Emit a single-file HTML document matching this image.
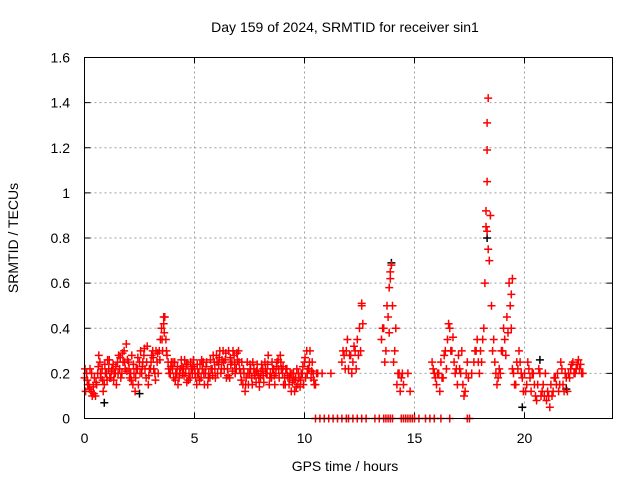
<!DOCTYPE html>
<html><head><meta charset="utf-8"><style>
body{margin:0;background:#fff}
svg text{font-family:"Liberation Sans",sans-serif;fill:#000}
</style></head><body>
<svg id="chart" width="640" height="480" xmlns="http://www.w3.org/2000/svg">
<rect width="640" height="480" fill="#fff"/>
<text x="345" y="32" font-size="14" text-anchor="middle">Day 159 of 2024, SRMTID for receiver sin1</text>
<text x="345" y="471" font-size="14" text-anchor="middle">GPS time / hours</text>
<text transform="translate(18,238) rotate(-90)" font-size="14" text-anchor="middle">SRMTID / TECUs</text>
<g id="grid"></g>
<g id="ticks"></g>
<g id="marks"></g>
<rect x="84.5" y="57.5" width="528" height="361" fill="none" stroke="#000" stroke-width="1"/>
</svg>
<script>
const xTicks=[0,5,10,15,20];
const yTicks=[0,0.2,0.4,0.6,0.8,1,1.2,1.4,1.6];
const yTickLabels=["0","0.2","0.4","0.6","0.8","1","1.2","1.4","1.6"];
const tStart=0, tStep=0.1;
const valsA=[0.18,0.2,0.15,0.12,0.14,0.1,0.2,0.25,0.22,0.15,
0.2,0.22,0.18,0.24,0.2,0.25,0.22,0.2,0.3,0.33,
0.25,0.2,0.15,0.12,0.22,0.25,0.2,0.28,0.18,0.15,
0.22,0.3,0.2,0.25,0.3,0.4,0.42,0.35,0.25,0.2,
0.22,0.25,0.2,0.18,0.26,0.22,0.2,0.24,0.18,0.2,
0.22,0.15,0.2,0.18,0.25,0.2,0.15,0.18,0.22,0.25,
0.28,0.24,0.2,0.3,0.26,0.22,0.18,0.25,0.28,0.22,
0.3,0.2,0.15,0.12,0.25,0.2,0.18,0.22,0.16,0.2,
0.18,0.22,0.25,0.2,0.15,0.18,0.22,0.2,0.26,0.28,
0.2,0.18,0.22,0.15,0.12,0.2,0.18,0.15,0.14,0.2,
0.25,0.3,0.22,0.18,0.2,0.15,0.2,null,0.2,null,
null,null,0.2,null,null,null,null,0.25,0.28,0.3,
0.22,0.28,0.25,0.3,0.35,0.4,0.5,null,null,null,
null,null,null,null,null,0.35,0.4,0.3,0.45,0.62,
0.5,0.3,0.15,0.2,0.18,0.15,null,0.2,0.12,null,
null,null,null,null,null,null,null,null,0.25,0.2,
0.15,0.2,0.25,0.18,0.3,0.35,0.4,0.3,0.25,0.22,
0.28,0.2,0.15,0.12,0.25,null,0.2,0.25,0.3,0.25,
0.3,0.35,0.6,1.05,0.7,0.5,0.35,0.2,0.18,0.2,
0.3,0.35,0.45,0.6,0.4,0.2,0.15,0.22,0.25,0.18,
0.2,0.15,0.22,0.12,0.2,0.1,0.15,0.2,0.12,0.1,
0.08,0.1,0.15,0.12,0.18,0.2,0.15,0.22,0.12,0.18,
0.2,0.22,0.25,0.2,0.24,0.22,0.2];
const valsB=[0.12,0.15,0.22,0.1,0.18,0.15,0.28,0.18,0.12,0.2,
0.26,0.18,0.22,0.2,0.15,0.28,0.18,0.25,0.22,0.26,
0.18,0.28,0.2,0.22,0.15,0.3,0.25,0.22,0.32,0.22,
0.28,0.22,0.3,0.2,0.35,0.3,0.45,0.28,0.2,0.25,
0.18,0.2,0.15,0.22,0.2,0.26,0.16,0.2,0.22,0.26,
0.18,0.2,0.24,0.22,0.15,0.25,0.2,0.22,0.28,0.18,
0.2,0.3,0.26,0.22,0.18,0.3,0.24,0.3,0.2,0.26,
0.22,0.25,0.2,0.18,0.15,0.22,0.25,0.2,0.24,0.14,
0.24,0.16,0.2,0.28,0.2,0.22,0.15,0.25,0.18,0.22,
0.15,0.22,0.18,0.2,0.16,0.12,0.22,0.18,0.2,0.15,
0.18,0.22,0.3,0.25,0.15,0.2,null,null,null,null,
null,null,null,null,null,null,null,0.3,0.22,0.35,
0.28,0.2,0.32,0.22,0.28,0.3,0.42,null,null,null,
null,null,null,null,null,0.4,0.25,0.5,0.38,0.68,
0.25,0.4,0.2,0.12,0.2,null,null,null,null,null,
null,null,null,null,null,null,null,null,0.22,0.18,
0.2,0.12,0.18,0.28,0.22,0.42,0.3,0.36,0.2,0.15,
0.22,0.3,0.1,0.2,0.18,null,null,0.3,0.35,0.2,
0.25,0.4,0.85,1.42,0.9,0.3,0.25,0.15,0.22,0.3,
0.4,0.28,0.38,0.5,0.22,0.15,0.25,0.3,0.2,0.12,
0.12,0.25,0.18,0.2,0.15,0.08,0.22,0.1,0.15,0.2,
0.12,0.05,0.1,0.18,0.15,0.12,0.25,0.15,0.2,0.12,
0.18,0.24,0.2,0.22,0.26,0.24,0.2];
const valsC=[0.22,0.17,0.13,0.2,0.11,0.16,0.23,0.2,0.17,0.24,
0.17,0.26,0.21,0.17,0.23,0.2,0.27,0.29,0.25,0.21,
0.22,0.17,0.24,0.18,0.27,0.2,0.23,0.31,0.25,0.19,
0.25,0.27,0.17,0.29,0.26,0.35,0.38,0.3,0.22,0.23,
0.25,0.17,0.23,0.2,0.23,0.19,0.24,0.17,0.25,0.23,
0.2,0.24,0.17,0.26,0.2,0.23,0.18,0.26,0.19,0.22,
0.25,0.27,0.22,0.25,0.29,0.19,0.27,0.21,0.24,0.29,
0.25,0.17,0.22,0.15,0.2,0.24,0.15,0.19,0.21,0.18,
0.21,0.19,0.22,0.24,0.18,0.25,0.19,0.23,0.22,0.25,
0.23,0.15,0.19,0.18,0.2,0.17,0.14,0.2,0.17,0.23,
0.27,0.2,0.25,0.21,0.17];
const extraT=[18.3,18.3,18.25,18.3,13.9,19.45,19.4,12.6,3.6,13.85,18.35];
const extraV=[1.31,1.19,0.92,0.83,0.65,0.62,0.55,0.51,0.45,0.58,0.75];
const blackT=[0.9,2.5,13.95,18.3,19.9,20.7,21.9];
const blackV=[0.07,0.11,0.69,0.8,0.05,0.26,0.13];
const zeroTimes=[10.5,10.7,10.9,11.1,11.3,11.5,11.7,11.9,12.0,12.2,12.4,12.6,12.8,13.2,13.4,13.6,13.7,13.8,13.9,14.0,14.4,14.5,14.6,14.7,14.8,14.9,15.0,15.2,15.5,15.7,15.9,16.2,16.6,17.4,17.5];

const X0=84.5,X1=612.5,Y0=418.5,Y1=57.5,XMAX=24,YMAX=1.6;
const xs=t=>X0+(X1-X0)*t/XMAX;
const ys=v=>Y0-(Y0-Y1)*v/YMAX;
const NS="http://www.w3.org/2000/svg";
const grid=document.getElementById('grid'),ticks=document.getElementById('ticks'),marks=document.getElementById('marks');
function mk(tag,attrs,parent){const e=document.createElementNS(NS,tag);for(const k in attrs)e.setAttribute(k,attrs[k]);parent.appendChild(e);return e;}
yTicks.forEach((v,i)=>{
  const y=ys(v);
  if(v>0&&v<YMAX){const g=mk('line',{x1:X0,x2:X1,y1:y,y2:y,stroke:'#a0a0a0','stroke-dasharray':'2,3'},grid);
  
  }
  mk('line',{x1:X0,x2:X0+6,y1:y,y2:y,stroke:'#000'},ticks);
  mk('line',{x1:X1,x2:X1-6,y1:y,y2:y,stroke:'#000'},ticks);
  const t=mk('text',{x:70,y:y+5,'font-size':14,'text-anchor':'end'},ticks);
  t.textContent=yTickLabels[i];
  
  
});
xTicks.forEach(v=>{
  const x=xs(v);
  if(v>0){const g=mk('line',{x1:x,x2:x,y1:Y0,y2:Y1,stroke:'#a0a0a0','stroke-dasharray':'2,3'},grid);
  
  }
  mk('line',{x1:x,x2:x,y1:Y0,y2:Y0-6,stroke:'#000'},ticks);
  mk('line',{x1:x,x2:x,y1:Y1,y2:Y1+6,stroke:'#000'},ticks);
  const t=mk('text',{x:x,y:443,'font-size':14,'text-anchor':'middle'},ticks);
  t.textContent=String(v);
  
  
});
function plus(t,v,color){
  const x=xs(t),y=ys(v);
  const p=mk('path',{d:`M${x-4},${y}H${x+4}M${x},${y-4}V${y+4}`,stroke:color,'stroke-width':1.5,fill:'none'},marks);
  
  
}
blackT.forEach((t,i)=>plus(t,blackV[i],'#000'));
valsA.forEach((v,i)=>{if(v!==null)plus(tStart+i*tStep,v,'#f00');});
valsB.forEach((v,i)=>{if(v!==null)plus(tStart+i*tStep+0.05,v,'#f00');});
valsC.forEach((v,i)=>{if(v!==null)plus(tStart+i*tStep+0.025,v,'#f00');});
extraT.forEach((t,i)=>plus(t,extraV[i],'#f00'));
zeroTimes.forEach(t=>plus(t,0,'#f00'));
</script>
</body></html>
